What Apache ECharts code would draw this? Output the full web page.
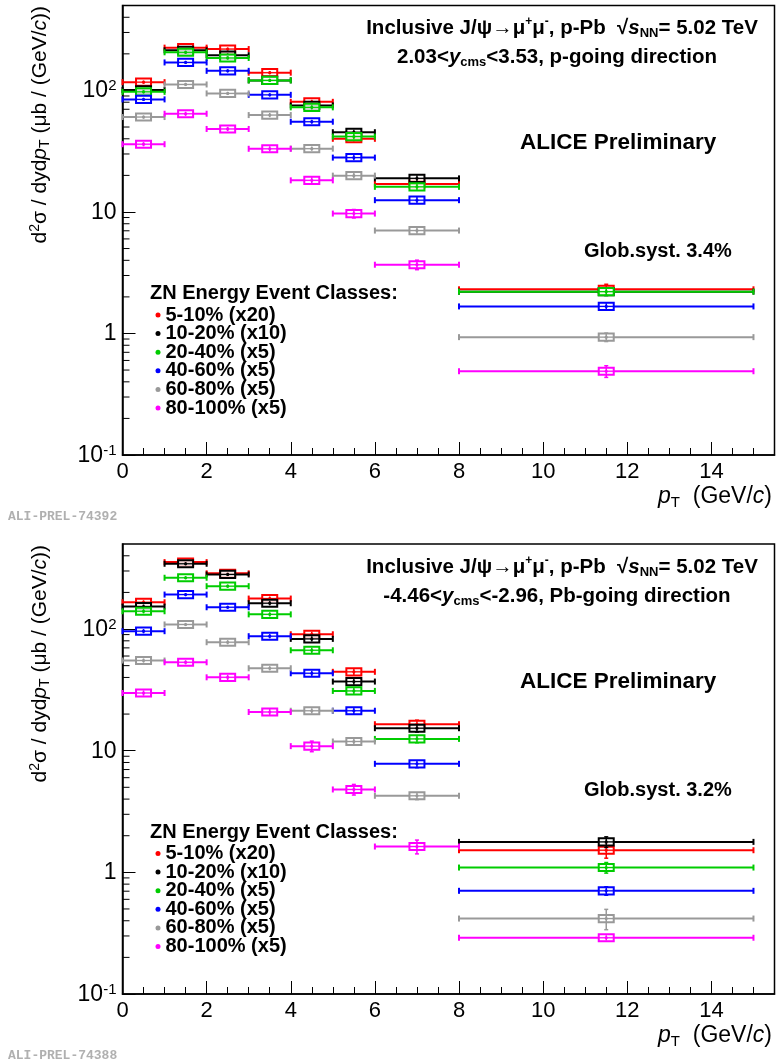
<!DOCTYPE html>
<html><head><meta charset="utf-8">
<script src="https://cdn.jsdelivr.net/npm/echarts@6/dist/echarts.min.js"></script>
<style>html,body{margin:0;padding:0;background:#fff}#c{width:779px;height:1064px}</style>
</head><body><div id="c"></div>
<script>
// ---------------- data ----------------
const binLow  = [0, 1, 2, 3, 4, 5, 6, 8];
const binHigh = [1, 2, 3, 4, 5, 6, 8, 15];
const classNames  = ['5-10% (x20)', '10-20% (x10)', '20-40% (x5)', '40-60% (x5)', '60-80% (x5)', '80-100% (x5)'];
const classColors = ['#ff0000', '#000000', '#00cc00', '#0000ff', '#999999', '#ff00ff'];

// p-going direction (2.03<y<3.53)
const pGoing_5_10   = [117, 225, 219, 140, 80.6, 40.0, 17.0, 2.31];
const pGoing_10_20  = [101, 214, 195, 121, 75.3, 45.3, 18.9, 2.21];
const pGoing_20_40  = [97.4, 206, 185, 121, 72.6, 41.7, 16.1, 2.21];
const pGoing_40_60  = [84.4, 170, 145, 92.0, 55.3, 28.0, 12.5, 1.67];
const pGoing_60_80  = [60.4, 112, 94.5, 62.7, 33.2, 19.9, 7.03, 0.933];
const pGoing_80_100 = [36.1, 64.3, 48.2, 33.1, 18.2, 9.7, 3.68, 0.489];
// relative statistical uncertainties
const pGoingStat_5_10   = [0.03, 0.03, 0.03, 0.03, 0.04, 0.05, 0.06, 0.10];
const pGoingStat_10_20  = [0.03, 0.03, 0.03, 0.03, 0.04, 0.05, 0.06, 0.07];
const pGoingStat_20_40  = [0.03, 0.03, 0.03, 0.03, 0.04, 0.05, 0.06, 0.07];
const pGoingStat_40_60  = [0.03, 0.03, 0.03, 0.03, 0.04, 0.05, 0.06, 0.06];
const pGoingStat_60_80  = [0.03, 0.03, 0.03, 0.04, 0.04, 0.05, 0.06, 0.08];
const pGoingStat_80_100 = [0.04, 0.04, 0.04, 0.05, 0.06, 0.08, 0.09, 0.11];

// Pb-going direction (-4.46<y<-2.96)
const pbGoing_5_10   = [166, 355, 287, 178, 90.6, 44.5, 16.5, 1.52];
const pbGoing_10_20  = [153, 344, 281, 163, 83.0, 37.0, 15.3, 1.78];
const pbGoing_20_40  = [140, 264, 225, 132, 66.9, 31.0, 12.5, 1.095];
const pbGoing_40_60  = [96.0, 192, 151, 87.3, 43.3, 21.3, 7.8, 0.705];
const pbGoing_60_80  = [55.1, 109, 77.9, 47.6, 21.3, 11.9, 4.26, 0.417];
const pbGoing_80_100 = [29.8, 53.3, 40.1, 20.8, 10.9, 4.8, 1.63, 0.29];
const pbGoingStat_5_10   = [0.04, 0.03, 0.03, 0.04, 0.05, 0.06, 0.08, 0.14];
const pbGoingStat_10_20  = [0.04, 0.03, 0.03, 0.04, 0.05, 0.06, 0.07, 0.10];
const pbGoingStat_20_40  = [0.04, 0.03, 0.03, 0.04, 0.05, 0.06, 0.07, 0.10];
const pbGoingStat_40_60  = [0.04, 0.03, 0.03, 0.04, 0.05, 0.06, 0.07, 0.08];
const pbGoingStat_60_80  = [0.04, 0.03, 0.04, 0.04, 0.05, 0.06, 0.07, 0.19];
const pbGoingStat_80_100 = [0.05, 0.04, 0.05, 0.06, 0.10, 0.10, 0.13, 0.05];

const sysRel = 0.07;             // box half-height (relative)
const yMin = 0.1, yMax = 500, xMin = 0, xMax = 15.5;
const yMinorTicks = [0.2,0.3,0.4,0.5,0.6,0.7,0.8,0.9, 2,3,4,5,6,7,8,9, 20,30,40,50,60,70,80,90, 200,300,400];
const xTickInterval = 2;

const panelValues = [
  [pGoing_5_10, pGoing_10_20, pGoing_20_40, pGoing_40_60, pGoing_60_80, pGoing_80_100],
  [pbGoing_5_10, pbGoing_10_20, pbGoing_20_40, pbGoing_40_60, pbGoing_60_80, pbGoing_80_100]
];
const panelStat = [
  [pGoingStat_5_10, pGoingStat_10_20, pGoingStat_20_40, pGoingStat_40_60, pGoingStat_60_80, pGoingStat_80_100],
  [pbGoingStat_5_10, pbGoingStat_10_20, pbGoingStat_20_40, pbGoingStat_40_60, pbGoingStat_60_80, pbGoingStat_80_100]
];

// ---------------- rendering ----------------
const FONT = "'Liberation Sans', Arial, Helvetica, sans-serif";
const chart = echarts.init(document.getElementById('c'), null, {renderer: 'canvas'});

function errRender(params, api) {
  const lo = api.value(0), hi = api.value(1), y = api.value(2), st = api.value(3);
  const color = api.visual('color');
  const xc = (lo + hi) / 2;
  const a = api.coord([lo, y]), b = api.coord([hi, y]), c = api.coord([xc, y]);
  const bt = api.coord([xc, y * (1 + sysRel)])[1], bb = api.coord([xc, y / (1 + sysRel)])[1];
  const s1 = api.coord([xc, y * (1 + st)])[1], s2 = api.coord([xc, y * (1 - st)])[1];
  const ls = {stroke: color, lineWidth: 2};
  const ch = [
    {type: 'line', shape: {x1: a[0], y1: a[1], x2: b[0], y2: b[1]}, style: ls},
    {type: 'line', shape: {x1: a[0], y1: a[1] - 3, x2: a[0], y2: a[1] + 3}, style: ls},
    {type: 'line', shape: {x1: b[0], y1: b[1] - 3, x2: b[0], y2: b[1] + 3}, style: ls},
    {type: 'rect', shape: {x: c[0] - 7.5, y: bt, width: 15, height: bb - bt},
      style: {fill: 'rgba(255,255,255,0.8)', stroke: color, lineWidth: 2}},
    {type: 'line', shape: {x1: c[0] - 7.5, y1: c[1], x2: c[0] + 7.5, y2: c[1]}, style: {stroke: color, lineWidth: 1.2}},
    {type: 'line', shape: {x1: c[0], y1: s1, x2: c[0], y2: s2}, style: {stroke: color, lineWidth: 1.5}},
    {type: 'circle', shape: {cx: c[0], cy: c[1], r: 1.6}, style: {fill: color}}
  ];
  if (s1 < bt) ch.push({type: 'line', shape: {x1: c[0] - 2, y1: s1, x2: c[0] + 2, y2: s1}, style: {stroke: color, lineWidth: 1.5}});
  if (s2 > bb) ch.push({type: 'line', shape: {x1: c[0] - 2, y1: s2, x2: c[0] + 2, y2: s2}, style: {stroke: color, lineWidth: 1.5}});
  return {type: 'group', children: ch};
}

function minorTickRender(params, api) {
  const p = api.coord([xMin, api.value(0)]);
  return {type: 'line', shape: {x1: p[0], y1: p[1], x2: p[0] + 7, y2: p[1]}, style: {stroke: '#000', lineWidth: 1}};
}

const grids = [
  {left: 122.5, top: 5.5, width: 652, height: 449.5},
  {left: 122.5, top: 544, width: 652, height: 450}
];
const yLabelFmt = function (v) {
  const l = Math.log10(v), e = Math.round(l);
  if (Math.abs(l - e) > 1e-6) return '';
  if (e === 0) return '{b|1}';
  if (e === 1) return '{b|10}';
  return '{b|10}{s|' + e + '}';
};
const xLabelFmt = function (v) { return (Math.abs(v % xTickInterval) < 1e-9) ? String(v) : ''; };

const xAxes = [], yAxes = [], series = [], legends = [];
grids.forEach(function (g, gi) {
  g.show = true; g.borderColor = '#000'; g.borderWidth = 1.5; g.backgroundColor = '#fff';
  xAxes.push({
    type: 'value', gridIndex: gi, min: xMin, max: xMax, interval: xTickInterval,
    axisLine: {show: true, onZero: false, lineStyle: {color: '#000', width: 1.5}},
    axisTick: {show: true, inside: true, length: 13, lineStyle: {color: '#000', width: 1}},
    minorTick: {show: true, splitNumber: 4, length: 7, lineStyle: {color: '#000', width: 1}},
    splitLine: {show: false},
    axisLabel: {formatter: xLabelFmt, color: '#000', fontFamily: FONT, fontSize: 22, margin: 6, showMaxLabel: false}
  });
  yAxes.push({
    type: 'log', logBase: 10, gridIndex: gi, min: yMin, max: yMax,
    axisLine: {show: true, lineStyle: {color: '#000', width: 1.5}},
    axisTick: {show: true, inside: true, length: 13, lineStyle: {color: '#000', width: 1}},
    minorTick: {show: false}, splitLine: {show: false},
    axisLabel: {
      formatter: yLabelFmt, color: '#000', margin: 6, showMaxLabel: false,
      rich: {
        b: {fontFamily: FONT, fontSize: 23, color: '#000', lineHeight: 24, verticalAlign: 'bottom'},
        s: {fontFamily: FONT, fontSize: 15, color: '#000', lineHeight: 15, verticalAlign: 'top', padding: [0, 0, 6, 0]}
      }
    }
  });
  series.push({
    type: 'custom', name: 'minorTicks' + gi, xAxisIndex: gi, yAxisIndex: gi, silent: true, z: 3,
    renderItem: minorTickRender, data: yMinorTicks.map(function (v) { return [v]; }),
    encode: {y: 0}
  });
  classNames.forEach(function (nm, si) {
    const vals = panelValues[gi][si], st = panelStat[gi][si];
    series.push({
      type: 'custom', name: nm, xAxisIndex: gi, yAxisIndex: gi, z: 4,
      itemStyle: {color: classColors[si]},
      renderItem: errRender,
      encode: {x: [0, 1], y: 2},
      data: vals.map(function (v, i) { return [binLow[i], binHigh[i], v, st[i]]; })
    });
  });
  legends.push({
    data: classNames.map(function (n) { return {name: n, icon: 'circle'}; }),
    orient: 'vertical', left: 155.5, top: gi === 0 ? 305 : 843.5,
    itemWidth: 5, itemHeight: 5, itemGap: -1.4, padding: 0, selectedMode: false,
    textStyle: {fontFamily: FONT, fontWeight: 'bold', fontSize: 20, lineHeight: 18.4, color: '#000'}
  });
});

const txtRich = {
  n: {fontFamily: FONT, fontWeight: 'bold', fontSize: 20.5, lineHeight: 24, fill: '#000', verticalAlign: 'middle'},
  it: {fontFamily: FONT, fontWeight: 'bold', fontStyle: 'italic', fontSize: 20.5, lineHeight: 24, fill: '#000', verticalAlign: 'middle'},
  sup: {fontFamily: FONT, fontWeight: 'bold', fontSize: 12, lineHeight: 12, fill: '#000', verticalAlign: 'top'},
  sub: {fontFamily: FONT, fontWeight: 'bold', fontSize: 13, lineHeight: 13, fill: '#000', verticalAlign: 'bottom', padding: [6, 0, 0, 0]}
};
const axRich = {
  n: {fontFamily: FONT, fontSize: 21, lineHeight: 24, fill: '#000'},
  it: {fontFamily: FONT, fontStyle: 'italic', fontSize: 21, lineHeight: 24, fill: '#000'},
  sup: {fontFamily: FONT, fontSize: 14, lineHeight: 14, fill: '#000', verticalAlign: 'top'},
  sub: {fontFamily: FONT, fontSize: 14, lineHeight: 14, fill: '#000', verticalAlign: 'bottom', padding: [6, 0, 0, 0]}
};
const xRich = {
  n: {fontFamily: FONT, fontSize: 23, lineHeight: 26, fill: '#000'},
  it: {fontFamily: FONT, fontStyle: 'italic', fontSize: 23, lineHeight: 26, fill: '#000'},
  sub: {fontFamily: FONT, fontSize: 15, lineHeight: 15, fill: '#000', verticalAlign: 'bottom', padding: [6, 0, 0, 0]}
};

const panelText = [
  {h1: '{n|Inclusive J/ψ→μ}{sup|+}{n|μ}{sup|-}{n|, p-Pb  √}{it|s}{sub|NN}{n|= 5.02 TeV}',
   h2: '{n|2.03<}{it|y}{sub|cms}{n|<3.53, p-going direction}',
   syst: 'Glob.syst. 3.4%', tag: 'ALI-PREL-74392'},
  {h1: '{n|Inclusive J/ψ→μ}{sup|+}{n|μ}{sup|-}{n|, p-Pb  √}{it|s}{sub|NN}{n|= 5.02 TeV}',
   h2: '{n|-4.46<}{it|y}{sub|cms}{n|<-2.96, Pb-going direction}',
   syst: 'Glob.syst. 3.2%', tag: 'ALI-PREL-74388'}
];

const graphics = [];
panelText.forEach(function (t, gi) {
  const dy = gi * 539;
  graphics.push(
    {type: 'text', x: 562, y: 28 + dy, z: 10, style: {text: t.h1, rich: txtRich, align: 'center', verticalAlign: 'middle'}},
    {type: 'text', x: 557, y: 57 + dy, z: 10, style: {text: t.h2, rich: txtRich, align: 'center', verticalAlign: 'middle'}},
    {type: 'text', x: 520, y: 143 + dy, z: 10, style: {text: 'ALICE Preliminary', font: 'bold 22.5px ' + FONT, fill: '#000', verticalAlign: 'middle'}},
    {type: 'text', x: 584, y: 251 + dy, z: 10, style: {text: t.syst, font: 'bold 20px ' + FONT, fill: '#000', verticalAlign: 'middle'}},
    {type: 'text', x: 150, y: 293 + dy, z: 10, style: {text: 'ZN Energy Event Classes:', font: 'bold 20px ' + FONT, fill: '#000', verticalAlign: 'middle'}},
    {type: 'text', x: 772, y: 497 + dy, z: 10, style: {text: '{it|p}{sub|T}{n|  (GeV/}{it|c}{n|)}', rich: xRich, align: 'right', verticalAlign: 'middle'}},
    {type: 'text', x: 40, y: 6 + dy, rotation: Math.PI / 2, z: 10,
      style: {text: '{n|d}{sup|2}{n|σ / dyd}{it|p}{sub|T}{n| (μb / (GeV/}{it|c}{n|))}', rich: axRich, align: 'right', verticalAlign: 'middle'}},
    {type: 'text', x: 8, y: 517 + dy, z: 10, style: {text: t.tag, font: 'bold 13px "Liberation Mono", monospace', fill: '#b0b0b0', verticalAlign: 'middle'}}
  );
});

chart.setOption({
  animation: false,
  backgroundColor: '#fff',
  grid: grids, xAxis: xAxes, yAxis: yAxes, series: series, legend: legends,
  graphic: graphics
});
</script></body></html>
